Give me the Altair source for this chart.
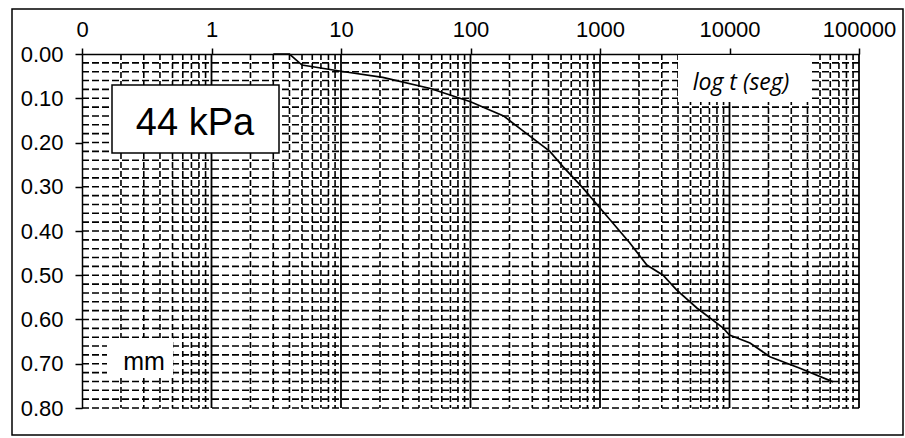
import altair as alt
import pandas as pd

# ---- data ----
time_s = [3, 4, 5, 10, 21, 49, 100, 180, 250, 410, 520, 740, 1000, 1700, 2300,
          3070, 3900, 5600, 8900, 10000, 14400, 20500, 35000, 63000]
settle_mm = [0.000, 0.000, 0.025, 0.039, 0.053, 0.078, 0.108, 0.140, 0.172, 0.220,
             0.255, 0.303, 0.348, 0.427, 0.477, 0.500, 0.533, 0.574, 0.619, 0.635,
             0.653, 0.684, 0.710, 0.741]
x_ticks = [0.1, 1, 10, 100, 1000, 10000, 100000]
y_ticks = [0.0, 0.1, 0.2, 0.3, 0.4, 0.5, 0.6, 0.7, 0.8]
label_load = "44 kPa"
label_unit = "mm"
label_axis = "log t (seg)"

# grid positions (derived from the axis ticks)
minor_x = [m * d for d in x_ticks[:-1] for m in range(2, 10)]
major_x = x_ticks[1:]
minor_y = [round(0.02 * i, 2) for i in range(1, 41)]

df = pd.DataFrame({"t": time_s, "s": settle_mm})

FONT = "Liberation Sans"
xscale = alt.Scale(type="log", domain=[0.1, 100000], nice=False)
yscale = alt.Scale(domain=[0, 0.8], reverse=True, nice=False, zero=False)

xaxis = alt.Axis(orient="top", values=x_ticks, title=None,
                 labelExpr="datum.value < 1 ? '0' : format(datum.value, 'd')",
                 labelFont=FONT, labelFontSize=22, labelColor="black",
                 tickSize=6, tickColor="black", tickWidth=1.5,
                 domainColor="black", domainWidth=1.5,
                 labelPadding=7, grid=False, labelFlush=False)
yaxis = alt.Axis(orient="left", values=y_ticks, format=".2f", title=None,
                 labelFont=FONT, labelFontSize=22, labelColor="black",
                 tickSize=7, tickColor="black", tickWidth=1.5,
                 domainColor="black", domainWidth=1.5,
                 labelPadding=12, grid=False)

W, H = 777, 354

hgrid = alt.Chart(pd.DataFrame({"y": minor_y})).mark_rule(
    color="black", strokeWidth=1.6, strokeDash=[7, 3]
).encode(y=alt.Y("y:Q", scale=yscale, axis=yaxis))

vminor = alt.Chart(pd.DataFrame({"x": minor_x})).mark_rule(
    color="black", strokeWidth=1.6, strokeDash=[6, 3]
).encode(x=alt.X("x:Q", scale=xscale, axis=xaxis))

vmajor = alt.Chart(pd.DataFrame({"x": major_x})).mark_rule(
    color="black", strokeWidth=1.8
).encode(x=alt.X("x:Q", scale=xscale, axis=xaxis))

line = alt.Chart(df).mark_line(color="black", strokeWidth=1.7).encode(
    x=alt.X("t:Q", scale=xscale, axis=xaxis),
    y=alt.Y("s:Q", scale=yscale, axis=yaxis),
)

one = alt.Data(values=[{"a": 1}])

frame = alt.Chart(one).mark_rect(fill=None, stroke="black", strokeWidth=1.5).encode(
    x=alt.value(-70), x2=alt.value(821), y=alt.value(-45), y2=alt.value(381))

box_load = alt.Chart(one).mark_rect(fill="white", stroke="black", strokeWidth=1.5).encode(
    x=alt.value(30), x2=alt.value(197), y=alt.value(31), y2=alt.value(99))
text_load = alt.Chart(one).mark_text(font=FONT, fontSize=38, color="black",
                                     align="center", baseline="alphabetic").encode(
    x=alt.value(113), y=alt.value(81), text=alt.value(label_load))

box_unit = alt.Chart(one).mark_rect(fill="white").encode(
    x=alt.value(25), x2=alt.value(91), y=alt.value(284), y2=alt.value(324))
text_unit = alt.Chart(one).mark_text(font=FONT, fontSize=25, color="black",
                                     align="center", baseline="alphabetic").encode(
    x=alt.value(62), y=alt.value(316), text=alt.value(label_unit))

box_axis = alt.Chart(one).mark_rect(fill="white").encode(
    x=alt.value(596), x2=alt.value(728), y=alt.value(1), y2=alt.value(48))
text_axis = alt.Chart(one).mark_text(font="Open Sans", fontSize=23, fontStyle="italic",
                                     color="black", align="center",
                                     baseline="alphabetic").encode(
    x=alt.value(659), y=alt.value(36), text=alt.value(label_axis))

chart = alt.layer(
    frame, hgrid, vminor, vmajor, line,
    box_load, text_load, box_unit, text_unit, box_axis, text_axis
).properties(
    width=W, height=H,
    autosize=alt.AutoSizeParams(type="none"),
    padding={"left": 82, "top": 54, "right": 46, "bottom": 30},
    background="white",
).configure_view(stroke=None)

chart.save("out.html", embed_options={"renderer": "svg", "actions": False})
